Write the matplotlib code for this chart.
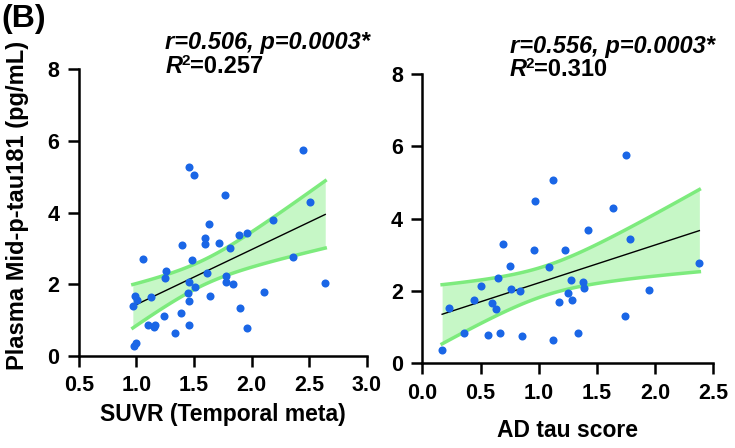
import matplotlib
matplotlib.use("Agg")
import matplotlib.pyplot as plt
from matplotlib.transforms import offset_copy
import numpy as np

plt.rcParams['font.family'] = ['Liberation Sans', 'DejaVu Sans']

# left panel: SUVR (temporal meta) vs plasma Mid-p-tau181
suvr = [2.45, 1.46, 1.50, 1.77, 2.51, 2.19, 1.63, 1.60, 1.89, 1.96,
        1.60, 1.40, 1.72, 1.81, 1.06, 1.48, 2.36, 1.26, 1.25, 1.61,
        1.78, 1.78, 1.84, 1.46, 1.51, 2.64, 2.11, 1.45, 0.99, 1.01,
        1.13, 0.97, 1.46, 1.64, 1.90, 1.39, 1.24, 1.10, 1.15, 1.16,
        1.46, 1.34, 1.96, 1.00, 0.98]
ptau_l = [5.75, 5.27, 5.05, 4.49, 4.28, 3.78, 3.68, 3.30, 3.38, 3.44,
          3.12, 3.08, 3.14, 3.00, 2.70, 2.67, 2.77, 2.37, 2.16, 2.32,
          2.23, 2.07, 2.00, 2.06, 1.93, 2.04, 1.78, 1.75, 1.68, 1.55,
          1.64, 1.40, 1.53, 1.68, 1.32, 1.18, 1.12, 0.86, 0.81, 0.85,
          0.86, 0.63, 0.77, 0.36, 0.27]

# right panel: AD tau score vs plasma Mid-p-tau181
tau_score = [1.75, 1.12, 0.97, 1.64, 1.42, 1.78, 0.69, 0.96, 1.23, 2.38,
             0.75, 1.09, 0.65, 1.28, 1.38, 1.39, 0.50, 0.76, 0.84, 1.95,
             1.25, 0.44, 0.60, 0.23, 0.63, 1.29, 1.17, 1.74, 0.36, 0.67,
             0.56, 0.86, 1.34, 1.12, 0.17]
ptau_r = [5.75, 5.06, 4.50, 4.29, 3.69, 3.44, 3.30, 3.12, 3.14, 2.76,
          2.70, 2.67, 2.37, 2.30, 2.24, 2.07, 2.15, 2.06, 1.99, 2.03,
          1.95, 1.74, 1.68, 1.54, 1.51, 1.76, 1.69, 1.32, 0.85, 0.85,
          0.77, 0.76, 0.85, 0.63, 0.36]

stats_l = ["r=0.506, p=0.0003*", "=0.257"]
stats_r = ["r=0.556, p=0.0003*", "=0.310"]

dot_color = '#1a66e6'
band_fill = '#c6f7c6'
band_edge = '#7deb7d'


def fit_band(x, y, tcrit):
    x = np.asarray(x)
    y = np.asarray(y)
    n = len(x)
    slope, icpt = np.polyfit(x, y, 1)
    resid = y - (slope * x + icpt)
    s = np.sqrt(np.sum(resid ** 2) / (n - 2))
    xs = np.linspace(x.min(), x.max(), 100)
    ys = slope * xs + icpt
    se = s * np.sqrt(1.0 / n + (xs - x.mean()) ** 2 / np.sum((x - x.mean()) ** 2))
    return xs, ys, ys - tcrit * se, ys + tcrit * se


def r2_text(ax, x, y, rest, fs=17):
    # italic R, small raised 2, then the value, placed side by side
    rend = fig.canvas.get_renderer()
    t1 = ax.text(x, y, "R", transform=ax.transAxes, fontsize=fs,
                 fontweight='bold', fontstyle='italic', va='baseline', ha='left')
    w1 = t1.get_window_extent(rend).width * 72 / fig.dpi
    tr2 = offset_copy(ax.transAxes, fig=fig, x=w1 - 0.5, y=5.5, units='points')
    t2 = ax.text(x, y, "2", transform=tr2, fontsize=fs * 0.65,
                 fontweight='bold', va='baseline', ha='left')
    w2 = t2.get_window_extent(rend).width * 72 / fig.dpi
    tr3 = offset_copy(ax.transAxes, fig=fig, x=w1 + w2 - 0.5, y=0, units='points')
    ax.text(x, y, rest, transform=tr3, fontsize=fs,
            fontweight='bold', va='baseline', ha='left')


def draw_panel(ax, x, y, tcrit, xlim, xticks, xlabel, lpad, stats, ty):
    xs, ys, lo, hi = fit_band(x, y, tcrit)
    ax.fill_between(xs, lo, hi, color=band_fill, lw=0, zorder=1)
    ax.plot(xs, lo, color=band_edge, lw=2.5, zorder=2)
    ax.plot(xs, hi, color=band_edge, lw=2.5, zorder=2)
    ax.plot(xs, ys, color='black', lw=1.0, zorder=3)
    ax.plot(x, y, 'o', color=dot_color, ms=5.8, mec='none', zorder=4)
    ax.set_xlim(xlim)
    ax.set_ylim(0, 8)
    ax.set_xticks(xticks)
    ax.set_xticklabels([f"{t:.1f}" for t in xticks])
    ax.set_yticks([0, 2, 4, 6, 8])
    for sp in ['top', 'right']:
        ax.spines[sp].set_visible(False)
    for sp in ['left', 'bottom']:
        ax.spines[sp].set_linewidth(1.8)
    ax.tick_params(width=1.8, length=8, labelsize=15.5, pad=6)
    for lab in ax.get_xticklabels() + ax.get_yticklabels():
        lab.set_fontweight('bold')
    ax.set_xlabel(xlabel, fontsize=16.5, fontweight='bold', labelpad=lpad)
    ax.text(0.30, ty[0], stats[0], transform=ax.transAxes, fontsize=17,
            fontweight='bold', fontstyle='italic', va='baseline', ha='left')
    r2_text(ax, 0.30, ty[1], stats[1])


fig = plt.figure(figsize=(7.35, 4.48), dpi=100)
ax1 = fig.add_axes([0.1071, 0.2060, 0.3918, 0.6393])
ax2 = fig.add_axes([0.5746, 0.1891, 0.3959, 0.6458])

draw_panel(ax1, suvr, ptau_l, 2.017, (0.5, 3.0), [0.5, 1.0, 1.5, 2.0, 2.5, 3.0],
           "SUVR (Temporal meta)", 5, stats_l, (1.071, 0.987))
draw_panel(ax2, tau_score, ptau_r, 2.035, (0.0, 2.5), [0.0, 0.5, 1.0, 1.5, 2.0, 2.5],
           "AD tau score", 11, stats_r, (1.073, 0.993))

fig.text(0.024, 0.542, "Plasma Mid-p-tau181 (pg/mL)", rotation=90, fontsize=17,
         fontweight='bold', ha='center', va='center')
fig.text(0.002, 0.958, "(B)", fontsize=23, fontweight='bold', ha='left', va='center')

fig.savefig("out.png", dpi=100)
